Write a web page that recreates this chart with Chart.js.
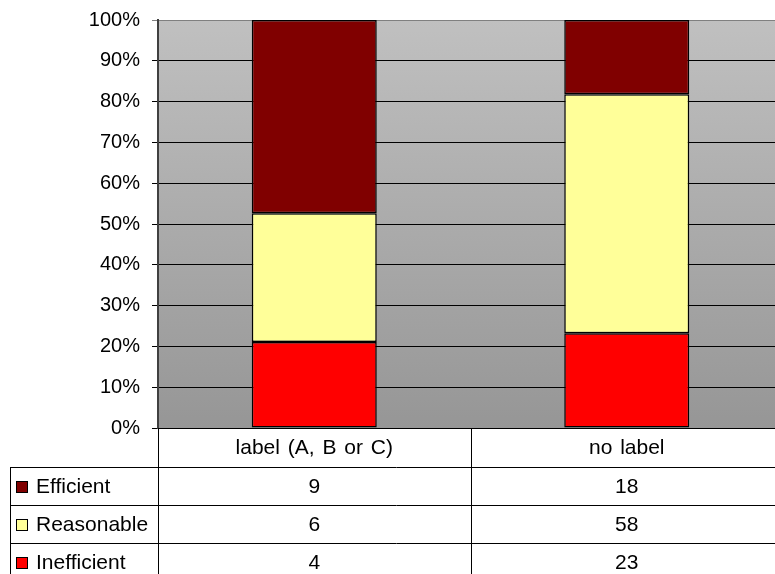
<!DOCTYPE html>
<html>
<head>
<meta charset="utf-8">
<script src="https://cdn.jsdelivr.net/npm/chart.js@4/dist/chart.umd.min.js"></script>
<style>
  html, body { margin: 0; padding: 0; overflow: hidden; background: #fff; }
  #wrap { width: 790px; height: 574px; }
</style>
</head>
<body>
<div id="wrap"><canvas id="c" width="790" height="574"></canvas></div>
<script>
// Categories and counts per rating
const categories = ['label (A, B or C)', 'no label'];
const efficient = [9, 18];
const reasonable = [6, 58];
const inefficient = [4, 23];
const yTicks = [0, 10, 20, 30, 40, 50, 60, 70, 80, 90, 100];

const totals = categories.map((_, i) => efficient[i] + reasonable[i] + inefficient[i]);
const pct = arr => arr.map((v, i) => v / totals[i] * 100);

// Rows of the data table (top to bottom)
const tableRows = [
  { name: 'Efficient', values: efficient, color: '#800000' },
  { name: 'Reasonable', values: reasonable, color: '#ffff99' },
  { name: 'Inefficient', values: inefficient, color: '#ff0000' }
];

const FAMILY = '"Liberation Sans", Arial, sans-serif';
const FONT = '21px ' + FAMILY;

const plotBackground = {
  id: 'plotBackground',
  beforeDraw(chart) {
    const { ctx, chartArea: a } = chart;
    const g = ctx.createLinearGradient(0, a.top, 0, a.bottom);
    g.addColorStop(0, '#c0c0c0');
    g.addColorStop(1, '#969696');
    ctx.save();
    ctx.fillStyle = g;
    ctx.fillRect(a.left, a.top, a.right - a.left, a.bottom - a.top);
    ctx.restore();
  }
};

const dataTable = {
  id: 'dataTable',
  afterDraw(chart) {
    const { ctx, chartArea: a } = chart;
    const x = chart.scales.x;
    const rowH = 38;
    const headTop = a.bottom;
    const headBottom = headTop + 39;
    const leftEdge = 10;
    const bottom = chart.height;
    const mid = (x.getPixelForValue(0) + x.getPixelForValue(1)) / 2;

    ctx.save();
    ctx.strokeStyle = '#000';
    ctx.lineWidth = 1;
    ctx.beginPath();
    // horizontal rules
    for (let r = 0; r < tableRows.length; r++) {
      const y = Math.round(headBottom + r * rowH) + 0.5;
      ctx.moveTo(leftEdge, y);
      ctx.lineTo(a.right, y);
    }
    // vertical rules
    ctx.moveTo(leftEdge + 0.5, headBottom);
    ctx.lineTo(leftEdge + 0.5, bottom);
    ctx.moveTo(Math.round(a.left) + 0.5, headTop);
    ctx.lineTo(Math.round(a.left) + 0.5, bottom);
    ctx.moveTo(Math.round(mid) + 0.5, headTop);
    ctx.lineTo(Math.round(mid) + 0.5, bottom);
    ctx.stroke();

    ctx.font = FONT;
    ctx.fillStyle = '#000';
    ctx.textBaseline = 'middle';
    ctx.textAlign = 'center';
    ctx.wordSpacing = '2px';
    categories.forEach((c, i) => {
      ctx.fillText(c, x.getPixelForValue(i), (headTop + headBottom) / 2 + 1);
    });
    ctx.wordSpacing = '0px';

    tableRows.forEach((row, r) => {
      const cy = headBottom + r * rowH + rowH / 2 + 1;
      // legend key
      ctx.fillStyle = row.color;
      ctx.fillRect(16.5, cy - 5.5, 11, 11);
      ctx.strokeStyle = '#000';
      ctx.strokeRect(16.5, cy - 5.5, 11, 11);
      ctx.fillStyle = '#000';
      ctx.textAlign = 'left';
      ctx.fillText(row.name, 36, cy);
      ctx.textAlign = 'center';
      row.values.forEach((v, i) => {
        ctx.fillText(String(v), x.getPixelForValue(i), cy);
      });
    });
    ctx.restore();
  }
};

const barStyle = { borderColor: '#000', borderWidth: 1.5, borderSkipped: false,
  categoryPercentage: 1.0, barPercentage: 0.4 };

new Chart(document.getElementById('c'), {
  type: 'bar',
  data: {
    labels: categories,
    datasets: [
      { label: 'Inefficient', data: pct(inefficient), backgroundColor: '#ff0000', ...barStyle },
      { label: 'Reasonable', data: pct(reasonable), backgroundColor: '#ffff99', ...barStyle },
      { label: 'Efficient', data: pct(efficient), backgroundColor: '#800000', ...barStyle }
    ]
  },
  options: {
    responsive: false,
    animation: false,
    layout: { padding: { top: 20, right: 7, bottom: 146, left: 0 } },
    plugins: { legend: { display: false }, tooltip: { enabled: false } },
    scales: {
      x: {
        stacked: true,
        display: false
      },
      y: {
        stacked: true,
        min: 0,
        max: 100,
        afterFit(scale) {
          scale.width = 158;
          scale.paddingTop = 0;
          scale.paddingBottom = 0;
        },
        afterBuildTicks(scale) { scale.ticks = yTicks.map(v => ({ value: v })); },
        ticks: {
          color: '#000',
          font: { family: FAMILY, size: 20 },
          padding: 12,
          callback: v => v + '%'
        },
        grid: {
          color: ctx => ctx.tick && ctx.tick.value === 100 ? '#808080' : '#000',
          lineWidth: 1,
          tickLength: 6
        },
        border: { color: '#404040', width: 2 }
      }
    }
  },
  plugins: [plotBackground, dataTable]
});
</script>
</body>
</html>
